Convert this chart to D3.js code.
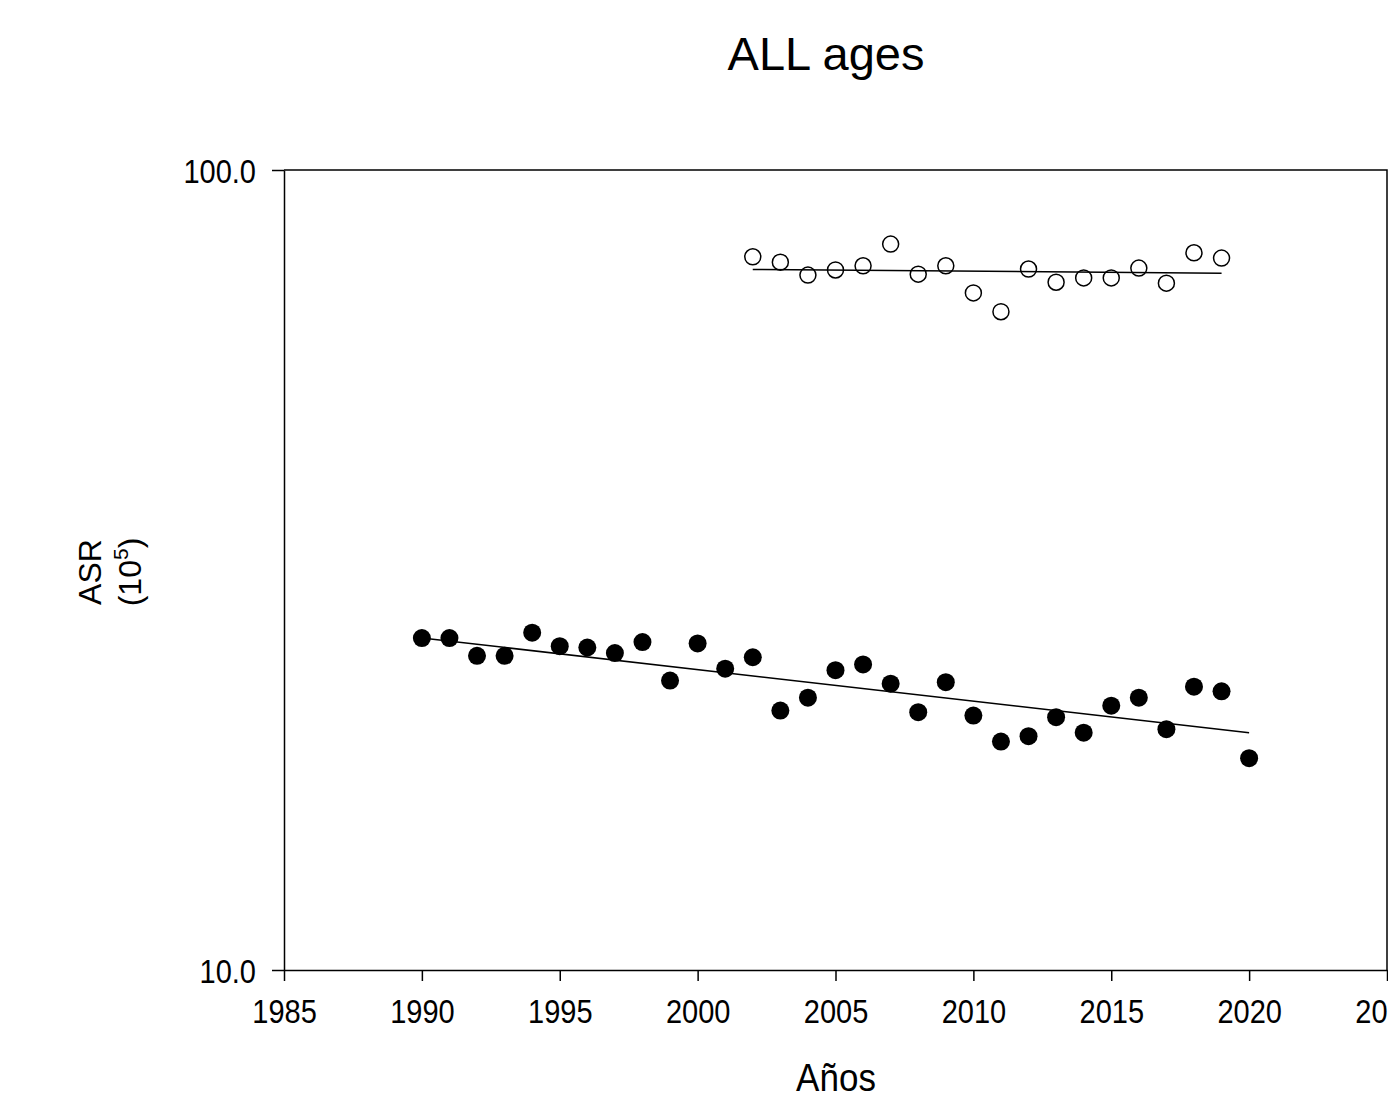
<!DOCTYPE html>
<html>
<head>
<meta charset="utf-8">
<script src="https://cdn.jsdelivr.net/npm/d3@7"></script>
<style>
  body { margin: 0; background: #fff; }
  svg { display: block; font-family: "Liberation Sans", Arial, sans-serif; }
</style>
</head>
<body>
<div id="chart"></div>
<script>
// filled points (1990-2020)
const yearsFilled = d3.range(1990, 2021);
const valuesFilled = [26.0, 26.0, 24.7, 24.7, 26.4, 25.4, 25.3, 24.9, 25.7, 23.0,
  25.6, 23.8, 24.6, 21.1, 21.9, 23.7, 24.1, 22.8, 21.0, 22.9,
  20.8, 19.3, 19.6, 20.7, 19.8, 21.4, 21.9, 20.0, 22.6, 22.3, 18.4];
const trendFilled = [[1990, 26.0], [2020, 19.8]];

// open points (2002-2019)
const yearsOpen = d3.range(2002, 2020);
const valuesOpen = [77.9, 76.7, 73.9, 75.0, 75.9, 80.8, 74.1, 75.9, 70.2, 66.5,
  75.2, 72.4, 73.3, 73.3, 75.4, 72.2, 78.8, 77.6];
const trendOpen = [[2002, 75.1], [2019, 74.3]];

const xTicks = [1985, 1990, 1995, 2000, 2005, 2010, 2015, 2020, 2025];
const yTicks = [10, 100];

const width = 1388, height = 1101;
const margin = { top: 170, left: 284, bottom: 131 };

const svg = d3.select("#chart").append("svg")
  .attr("width", width)
  .attr("height", height);

const x = d3.scaleLinear().domain([1985, 2025]).range([margin.left, 1387]);
const y = d3.scaleLog().domain([10, 100]).range([height - margin.bottom, margin.top]);

// frame (top and right)
svg.append("path")
  .attr("d", `M${margin.left},${margin.top}H${x(2025)}V${y(10)}`)
  .attr("fill", "none")
  .attr("stroke", "#000")
  .attr("stroke-width", 1.5);

// x axis
const xAxis = svg.append("g")
  .attr("transform", `translate(0,${y(10)})`)
  .call(d3.axisBottom(x).tickValues(xTicks).tickFormat(d3.format("d")).tickSize(11).tickSizeOuter(0));
xAxis.select(".domain").attr("stroke-width", 1.5);
xAxis.selectAll(".tick line").attr("stroke-width", 1.5);
xAxis.selectAll(".tick text")
  .attr("font-size", 29)
  .attr("fill", "#000")
  .attr("font-family", "Liberation Sans, Arial, sans-serif")
  .attr("y", 0)
  .attr("dy", 0)
  .attr("transform", "translate(0,53) scale(1,1.13)");

// y axis
const yAxis = svg.append("g")
  .attr("transform", `translate(${margin.left},0)`)
  .call(d3.axisLeft(y).tickValues(yTicks).tickFormat(d3.format(".1f")).tickSize(12).tickSizeOuter(0));
yAxis.select(".domain").attr("stroke-width", 1.5);
yAxis.selectAll(".tick line").attr("stroke-width", 1.5);
yAxis.selectAll(".tick text")
  .attr("font-size", 29)
  .attr("fill", "#000")
  .attr("font-family", "Liberation Sans, Arial, sans-serif")
  .attr("x", 0)
  .attr("dy", 0)
  .attr("transform", "translate(-28,12) scale(1,1.13)");

// trend lines
const line = d3.line().x(d => x(d[0])).y(d => y(d[1]));
svg.append("path").datum(trendFilled)
  .attr("d", line).attr("fill", "none").attr("stroke", "#000").attr("stroke-width", 1.5);
svg.append("path").datum(trendOpen)
  .attr("d", line).attr("fill", "none").attr("stroke", "#000").attr("stroke-width", 1.5);

// points
svg.selectAll("circle.filled")
  .data(yearsFilled.map((yr, i) => ({ year: yr, value: valuesFilled[i] })))
  .join("circle")
  .attr("class", "filled")
  .attr("cx", d => x(d.year))
  .attr("cy", d => y(d.value))
  .attr("r", 9)
  .attr("fill", "#000");

svg.selectAll("circle.open")
  .data(yearsOpen.map((yr, i) => ({ year: yr, value: valuesOpen[i] })))
  .join("circle")
  .attr("class", "open")
  .attr("cx", d => x(d.year))
  .attr("cy", d => y(d.value))
  .attr("r", 8)
  .attr("fill", "none")
  .attr("stroke", "#000")
  .attr("stroke-width", 1.5);

// title
svg.append("text")
  .attr("x", 826)
  .attr("y", 70)
  .attr("text-anchor", "middle")
  .attr("font-size", 47)
  .text("ALL ages");

// x label
svg.append("text")
  .attr("transform", "translate(836,1091) scale(1,1.1)")
  .attr("text-anchor", "middle")
  .attr("font-size", 35)
  .text("Años");

// y label
const yLab = svg.append("text")
  .attr("transform", "translate(0,572) rotate(-90)")
  .attr("text-anchor", "middle")
  .attr("font-size", 32);
yLab.append("tspan").attr("x", 0).attr("y", 101).text("ASR");
const l2 = yLab.append("tspan").attr("x", 0).attr("y", 141);
l2.append("tspan").text("(10");
l2.append("tspan").attr("dy", -13).attr("font-size", 21).text("5");
l2.append("tspan").attr("dy", 13).text(")");
</script>
</body>
</html>
